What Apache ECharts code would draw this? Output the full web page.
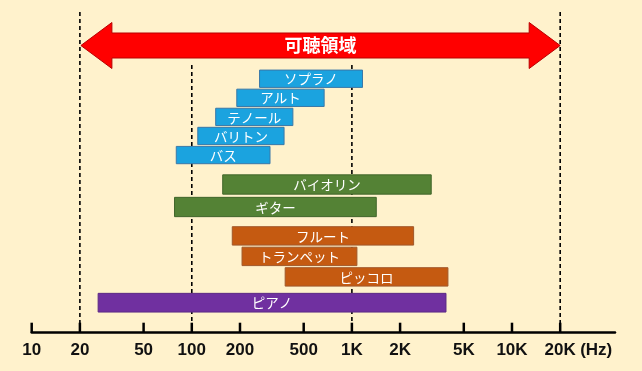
<!DOCTYPE html>
<html>
<head>
<meta charset="utf-8">
<script src="https://cdn.jsdelivr.net/npm/echarts/dist/echarts.min.js"></script>
<style>
html,body{margin:0;padding:0;background:#FFF2CC;}
#chart{width:642px;height:371px;}
</style>
</head>
<body>
<div id="chart"></div>
<script>
// ---- data ----
const voiceNames = ['ソプラノ', 'アルト', 'テノール', 'バリトン', 'バス'];
const voiceLow = [265, 191, 141, 109, 80];
const voiceHigh = [1165, 671, 428, 377, 308];

const stringNames = ['バイオリン', 'ギター'];
const stringLow = [156, 78];
const stringHigh = [3130, 1420];

const windNames = ['フルート', 'トランペット', 'ピッコロ'];
const windLow = [179, 206, 383];
const windHigh = [2430, 1075, 3980];

const pianoNames = ['ピアノ'];
const pianoLow = [26];
const pianoHigh = [3870];

const audibleRange = [20, 20000];
const audibleLabel = '可聴領域';

const tickValues = [10, 20, 50, 100, 200, 500, 1000, 2000, 5000, 10000, 20000];
const tickLabels = ['10', '20', '50', '100', '200', '500', '1K', '2K', '5K', '10K', '20K'];
const unitLabel = '(Hz)';

const refLinesFull = [20, 20000];
const refLinesInner = [100, 1000];

// ---- layout ----
const AX_MIN = 10, AX_MAX = 44000;
const LEFT = 31.7, RIGHT = 27;
const grids = [
  {left: LEFT, right: RIGHT, top: 12, bottom: 38.3},      // 0 main axis
  {left: LEFT, right: RIGHT, top: 65, bottom: 38.3},      // 1 inner ref lines
  {left: LEFT, right: RIGHT, top: 22.5, height: 46},      // 2 arrow
  {left: LEFT, right: RIGHT, top: 69.2, height: 95.4},    // 3 voices
  {left: LEFT, right: RIGHT, top: 173.25, height: 45},    // 4 strings
  {left: LEFT, right: RIGHT, top: 225.65, height: 61.5},  // 5 winds
  {left: LEFT, right: RIGHT, top: 292.7, height: 20}      // 6 piano
];

const xAxes = grids.map((g, i) => ({
  type: 'log', logBase: 10, min: AX_MIN, max: AX_MAX, gridIndex: i,
  show: i === 0,
  axisLine: {show: i === 0, lineStyle: {color: '#000', width: 2.5}},
  axisTick: {show: false}, axisLabel: {show: false},
  splitLine: {show: false}, minorTick: {show: false}, minorSplitLine: {show: false}
}));

const catAxis = (i, names) => ({type: 'category', gridIndex: i, data: names, inverse: true, show: false});
const valAxis = (i) => ({type: 'value', gridIndex: i, min: 0, max: 1, show: false});
const yAxes = [valAxis(0), valAxis(1), valAxis(2),
  catAxis(3, voiceNames), catAxis(4, stringNames), catAxis(5, windNames), catAxis(6, pianoNames)];

const CJK = '"Noto Sans CJK JP", "Noto Sans", sans-serif';

function refLineSeries(idx, values) {
  return {
    type: 'custom', xAxisIndex: idx, yAxisIndex: idx, z: 1, silent: true,
    data: values.map(v => [v]),
    encode: {x: 0},
    renderItem: function (params, api) {
      const cs = params.coordSys;
      const x = api.coord([api.value(0), 0])[0];
      return {
        type: 'line',
        shape: {x1: x, y1: cs.y, x2: x, y2: cs.y + cs.height},
        style: {stroke: '#000', lineWidth: 1.6, lineDash: [4, 3]}
      };
    }
  };
}

function rangeSeries(idx, names, low, high, fill, stroke, ratio) {
  return {
    type: 'custom', xAxisIndex: idx, yAxisIndex: idx, z: 3, silent: true,
    data: low.map((l, i) => [l, high[i], i]),
    encode: {x: [0, 1], y: 2},
    renderItem: function (params, api) {
      const s = api.coord([api.value(0), api.value(2)]);
      const e = api.coord([api.value(1), api.value(2)]);
      const h = api.size([0, 1])[1] * ratio;
      return {
        type: 'group',
        children: [
          {type: 'rect', shape: {x: s[0], y: s[1] - h / 2, width: e[0] - s[0], height: h},
           style: {fill: fill, stroke: stroke, lineWidth: 1}},
          {type: 'text', style: {x: (s[0] + e[0]) / 2, y: s[1] + 0.5, text: names[params.dataIndex],
            fill: '#fff', font: '13.5px ' + CJK, align: 'center', verticalAlign: 'middle'}}
        ]
      };
    }
  };
}

const arrowSeries = {
  type: 'custom', xAxisIndex: 2, yAxisIndex: 2, z: 2, silent: true,
  data: [[audibleRange[0], audibleRange[1]]],
  encode: {x: [0, 1]},
  renderItem: function (params, api) {
    const cs = params.coordSys;
    const x1 = api.coord([api.value(0), 0])[0] + 1;
    const x2 = api.coord([api.value(1), 0])[0];
    const top = cs.y, bot = cs.y + cs.height, cy = cs.y + cs.height / 2;
    const hw = 31, bh = 12.5;
    return {
      type: 'group',
      children: [
        {type: 'polygon', shape: {points: [
          [x1, cy], [x1 + hw, top], [x1 + hw, cy - bh], [x2 - hw, cy - bh], [x2 - hw, top],
          [x2, cy], [x2 - hw, bot], [x2 - hw, cy + bh], [x1 + hw, cy + bh], [x1 + hw, bot]
        ]}, style: {fill: '#FF0000', stroke: '#B80000', lineWidth: 1}},
        {type: 'text', style: {x: (x1 + x2) / 2, y: cy, text: audibleLabel, fill: '#fff',
          font: 'bold 18px ' + CJK, align: 'center', verticalAlign: 'middle'}}
      ]
    };
  }
};

const tickSeries = {
  type: 'custom', xAxisIndex: 0, yAxisIndex: 0, z: 4, silent: true,
  data: tickValues.map((v, i) => [v, i]),
  encode: {x: 0},
  renderItem: function (params, api) {
    const cs = params.coordSys;
    const x = api.coord([api.value(0), 0])[0];
    const ay = cs.y + cs.height;
    const i = params.dataIndex;
    const children = [
      {type: 'line', shape: {x1: x, y1: ay - 10, x2: x, y2: ay}, style: {stroke: '#000', lineWidth: 2.5}},
      {type: 'text', style: {x: x, y: ay + 17.5, text: tickLabels[i], fill: '#111',
        font: 'bold 17px "Liberation Sans", Arial, sans-serif', align: 'center', verticalAlign: 'middle'}}
    ];
    if (i === tickValues.length - 1) {
      children.push({type: 'text', style: {x: x + 20, y: ay + 17.5, text: unitLabel, fill: '#111',
        font: 'bold 17px "Liberation Sans", Arial, sans-serif', align: 'left', verticalAlign: 'middle'}});
    }
    return {type: 'group', children: children};
  }
};

const chart = echarts.init(document.getElementById('chart'));
chart.setOption({
  backgroundColor: '#FFF2CC',
  animation: false,
  grid: grids,
  xAxis: xAxes,
  yAxis: yAxes,
  series: [
    refLineSeries(0, refLinesFull),
    refLineSeries(1, refLinesInner),
    arrowSeries,
    rangeSeries(3, voiceNames, voiceLow, voiceHigh, '#1BA3DF', '#3A78A8', 0.907),
    rangeSeries(4, stringNames, stringLow, stringHigh, '#548235', '#40662A', 0.858),
    rangeSeries(5, windNames, windLow, windHigh, '#C55A11', '#A0582A', 0.898),
    rangeSeries(6, pianoNames, pianoLow, pianoHigh, '#7030A0', '#5C2A85', 0.935),
    tickSeries
  ]
});
</script>
</body>
</html>
